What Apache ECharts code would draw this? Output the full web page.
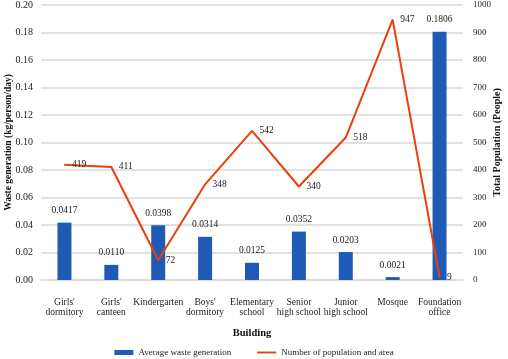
<!DOCTYPE html>
<html><head><meta charset="utf-8">
<script src="https://cdn.jsdelivr.net/npm/echarts@6/dist/echarts.min.js"></script>
<style>html,body{margin:0;padding:0;background:#fff}#c{width:508px;height:359px}</style>
</head><body><div id="c"></div>
<script>
var categories = ["Girls'\ndormitory","Girls'\ncanteen","Kindergarten","Boys'\ndormitory","Elementary\nschool","Senior\nhigh school","Junior\nhigh school","Mosque","Foundation\noffice"];
var wasteValues = [0.0417,0.0110,0.0398,0.0314,0.0125,0.0352,0.0203,0.0021,0.1806];
var populationValues = [419,411,72,348,542,340,518,947,9];
var leftTicks = [0,0.2,0.02];
var rightTicks = [0,1000,100];
var F = 'Liberation Serif';
var chart = echarts.init(document.getElementById('c'));
chart.setOption({
  animation:false,
  textStyle:{fontFamily:F,color:'#222'},
  grid:{left:41,right:45,top:5,bottom:79,containLabel:false,outerBoundsMode:'none'},
  legend:{top:343,left:'center',itemGap:26,itemWidth:19,itemHeight:5,
    textStyle:{fontFamily:F,fontSize:9,color:'#222'},
    data:[{name:'Average waste generation',icon:'rect'},{name:'Number of population and area',icon:'path://M0,0 L20,0 L20,2 L0,2 Z'}]},
  xAxis:{type:'category',data:categories,name:'Building',nameLocation:'middle',nameGap:48,nameMoveOverlap:false,
    nameTextStyle:{fontFamily:F,fontWeight:'bold',fontSize:10.5,color:'#111'},
    axisTick:{show:false},axisLine:{lineStyle:{color:'#d9d9d9',width:1.5}},
    axisLabel:{fontFamily:F,fontSize:9.5,color:'#222',interval:0,lineHeight:10,margin:17}},
  yAxis:[
    {type:'value',min:leftTicks[0],max:leftTicks[1],interval:leftTicks[2],
     name:'Waste generation (kg/person/day)',nameLocation:'middle',nameGap:27,nameRotate:90,nameMoveOverlap:false,
     nameTextStyle:{fontFamily:F,fontWeight:'bold',fontSize:9.5,color:'#111'},
     axisLabel:{fontFamily:F,fontSize:10,color:'#222',formatter:function(v){return v.toFixed(2);},margin:8},
     splitLine:{lineStyle:{color:'#d9d9d9',width:1.5}},axisLine:{show:false},axisTick:{show:false}},
    {type:'value',min:rightTicks[0],max:rightTicks[1],interval:rightTicks[2],
     name:'Total Population (People)',nameLocation:'middle',nameGap:29,nameRotate:90,nameMoveOverlap:false,
     nameTextStyle:{fontFamily:F,fontWeight:'bold',fontSize:10,color:'#111'},
     axisLabel:{fontFamily:F,fontSize:9,color:'#222',margin:10,formatter:function(v){return String(v);}},
     splitLine:{show:false},axisLine:{show:false},axisTick:{show:false}}
  ],
  series:[
    {name:'Average waste generation',type:'bar',data:wasteValues,barWidth:14,yAxisIndex:0,
     itemStyle:{color:'#1f5bb5'},
     label:{show:true,position:'top',distance:7,fontFamily:F,fontSize:9.5,color:'#222',formatter:function(p){return p.value.toFixed(4);}}},
    {name:'Number of population and area',type:'line',data:populationValues,yAxisIndex:1,
     symbol:'circle',symbolSize:1,showSymbol:true,lineStyle:{color:'#e8410c',width:2},itemStyle:{color:'#e8410c'},
     label:{show:true,position:'right',distance:7,fontFamily:F,fontSize:9.5,color:'#222'},
     labelLayout:{hideOverlap:false}}
  ]
});
</script></body></html>
